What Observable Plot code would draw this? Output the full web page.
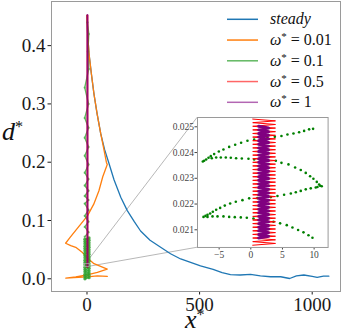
<!DOCTYPE html>
<html><head><meta charset="utf-8">
<script src="https://cdn.jsdelivr.net/npm/d3@7"></script>
<script src="https://cdn.jsdelivr.net/npm/@observablehq/plot@0.6"></script>
<style>
body{margin:0;background:#fff;}
#wrap{position:relative;width:343px;height:334px;overflow:hidden;}
#wrap svg{position:absolute;left:0;top:0;overflow:visible;}
</style></head><body><div id="wrap"></div>
<script>
// ---- data ----
const seriesLabels = ["steady", "0.01", "0.1", "0.5", "1"];
const seriesColors = ["#1f77b4", "#ff7f0e", "#2ca02c", "red", "purple"];
const seriesOpacity = [1, 1, 0.75, 0.6, 0.6];

const xTicks = [0, 500, 1000];
const yTicks = [0, 0.1, 0.2, 0.3, 0.4];
const insetXTicks = [-5, 0, 5, 10];
const insetYTicks = [0.021, 0.022, 0.023, 0.024, 0.025];

// steady
const steadyX = [0, 3, 9, 20, 31, 45, 61, 78, 96, 120, 150, 179, 210, 238, 280, 327, 371, 416, 460, 504, 560, 600, 637, 680, 726, 770, 815, 860, 900, 930, 963, 1000, 1022, 1050, 1074];
const steadyD = [0.452, 0.42, 0.386, 0.35, 0.317, 0.283, 0.249, 0.222, 0.2, 0.17, 0.14, 0.117, 0.098, 0.082, 0.066, 0.054, 0.043, 0.034, 0.028, 0.022, 0.016, 0.0105, 0.0072, 0.0065, 0.0075, 0.005, 0.0035, 0.0035, 0.0005, 0.005, 0.0065, 0.004, 0.0025, 0.0045, 0.0045];

// omega* = 0.01
const w001X = [0, 3, 9, 20, 31, 45, 61, 74, 86, 90, 70, 53, 30, 2, -25, -50, -75, -95, -72, -50, -20, 2, 31, 90, 46, 5, -50, -94, -58, 2, 46, 90];
const w001D = [0.452, 0.42, 0.386, 0.35, 0.317, 0.283, 0.249, 0.224, 0.2, 0.196, 0.175, 0.151, 0.128, 0.108, 0.095, 0.083, 0.071, 0.061, 0.057, 0.054, 0.045, 0.0355, 0.026, 0.0166, 0.011, 0.007, 0.0034, 0.001, 0.002, 0.0034, 0.005, 0.004];

// omega* = 0.1 (main view): upper wavy part and dense lower part
const w01X = [2, 8, 4, 8, -10, 7, -10, 7, -10, 7, -10, 7, -10, 7, -10, 7, -10, 7, -10, 7, -10, 7, -10, 7, -10];
const w01D = [0.44, 0.42, 0.39, 0.36, 0.328, 0.30, 0.276, 0.259, 0.242, 0.226, 0.211, 0.196, 0.182, 0.171, 0.160, 0.151, 0.142, 0.135, 0.129, 0.118, 0.108, 0.098, 0.089, 0.080, 0.072];
const w01BaseX = [9,-9,9,-9,9,-9,9,-9,9,-9,9,-9,9,-9,9,-9,9,-9,9,-9,9,-9,9,-9,9,-9,9,-9,9,-9,9,-9,9,-9,9,-9];
const w01BaseD = [0.070,0.068,0.066,0.064,0.062,0.060,0.058,0.056,0.054,0.052,0.050,0.048,0.046,0.044,0.042,0.040,0.038,0.036,0.034,0.032,0.030,0.028,0.026,0.024,0.022,0.020,0.018,0.016,0.014,0.012,0.010,0.008,0.006,0.004,0.002,0.000];

// omega* = 0.5 and 1 (main view)
const w05X = [2, 2];
const w05D = [0.0204, 0.4515];
const w1X = [2, 2];
const w1D = [0.0207, 0.4525];

// inset: omega* = 0.1 dots
const insetGreenX = [
  -7.58,-7.37,-7.05,-6.68,-6.32,-5.79,-5.05,-4.32,-3.42,-2.47,-1.53,-0.53,0.53,1.58,2.63,3.79,4.84,5.79,6.74,7.63,8.42,9.21,9.84,
  -6.16,-5.47,-4.74,-3.95,-3.16,-2.32,-1.42,-0.37,0.53,1.58,2.63,3.95,4.84,5.95,7.0,7.89,8.68,9.37,9.89,10.42,10.79,10.95,11.2,
  10.53,10.26,9.47,8.68,7.89,7.11,6.32,5.26,4.21,3.16,2.11,1.05,-0.26,-1.32,-2.37,-3.26,-4.11,-4.84,-5.47,-6.0,-6.42,-6.84,-7.16,-7.47,
  -6.84,-6.05,-5.26,-4.32,-3.42,-2.53,-1.58,-0.63,0.42,1.47,2.53,3.58,4.63,5.68,6.58,7.47,8.32,9.11,9.74];
const insetGreenD = [
  0.02365,0.02368,0.02373,0.02380,0.02386,0.02394,0.02404,0.02412,0.02422,0.02430,0.02438,0.02446,0.02450,0.02454,0.02458,0.02461,0.02464,0.02470,0.02474,0.02479,0.02484,0.02490,0.02492,
  0.02378,0.02381,0.02381,0.02381,0.02380,0.02378,0.02377,0.02376,0.02373,0.02372,0.02371,0.02368,0.02360,0.02354,0.02342,0.02332,0.02321,0.02308,0.02298,0.02286,0.02276,0.02271,0.02269,
  0.02266,0.02264,0.02261,0.02257,0.02251,0.02246,0.02241,0.02236,0.02231,0.02227,0.02224,0.02223,0.02222,0.02215,0.02209,0.02202,0.02194,0.02185,0.02178,0.02170,0.02163,0.02158,0.02154,0.02150,
  0.02150,0.02152,0.02152,0.02152,0.02150,0.02149,0.02148,0.02147,0.02144,0.02141,0.02139,0.02131,0.02125,0.02118,0.02109,0.02099,0.02090,0.02079,0.02069];

// inset: omega* = 0.5 path
const insetRedX = [
  0.3,3.9,0.3,3.9,0.3,3.9,0.3,3.9,0.3,3.9,
  0.3,3.9,0.3,3.9,0.3,3.9,0.3,3.9,0.3,3.9,
  0.3,3.9,0.3,3.9,0.3,3.9,0.3,3.9,0.3,3.9,
  0.3,3.9,0.3,3.9,0.3,3.9,0.3,3.9,0.3,3.9,
  0.3,3.9,0.3,3.9,0.3,3.9,0.3,3.9,0.3,3.9,
  0.3,3.9,0.3,3.9,0.3,3.9,0.3,3.9,0.3,3.9,
  0.3,3.9,0.3,3.9,0.3,3.9,0.3,3.9,0.3,3.9,
  0.3];
const insetRedD = [
  0.02040,0.02047,0.02054,0.02061,0.02068,0.02075,0.02082,0.02089,0.02096,0.02103,
  0.02110,0.02117,0.02124,0.02131,0.02138,0.02145,0.02152,0.02159,0.02166,0.02173,
  0.02180,0.02187,0.02194,0.02201,0.02208,0.02215,0.02222,0.02229,0.02236,0.02243,
  0.02250,0.02257,0.02264,0.02271,0.02278,0.02285,0.02292,0.02299,0.02306,0.02313,
  0.02320,0.02327,0.02334,0.02341,0.02348,0.02355,0.02362,0.02369,0.02376,0.02383,
  0.02390,0.02397,0.02404,0.02411,0.02418,0.02425,0.02432,0.02439,0.02446,0.02453,
  0.02460,0.02467,0.02474,0.02481,0.02488,0.02495,0.02502,0.02509,0.02516,0.02523,
  0.02530];

// inset: omega* = 1 path
const insetPurpleX = [
  1.25,2.8,1.25,2.8,1.25,2.8,1.25,2.8,1.25,2.8,
  1.25,2.8,1.25,2.8,1.25,2.8,1.25,2.8,1.25,2.8,
  1.25,2.8,1.25,2.8,1.25,2.8,1.25,2.8,1.25,2.8,
  1.25,2.8,1.25,2.8,1.25,2.8,1.25,2.8,1.25,2.8,
  1.25,2.8,1.25,2.8,1.25,2.8,1.25,2.8,1.25,2.8,
  1.25,2.8,1.25,2.8,1.25,2.8,1.25,2.8,1.25,2.8,
  1.25,2.8,1.25];
const insetPurpleD = [
  0.02068,0.02075,0.02082,0.02089,0.02096,0.02103,0.02110,0.02117,0.02124,0.02131,
  0.02138,0.02145,0.02152,0.02159,0.02166,0.02173,0.02180,0.02187,0.02194,0.02201,
  0.02208,0.02215,0.02222,0.02229,0.02236,0.02243,0.02250,0.02257,0.02264,0.02271,
  0.02278,0.02285,0.02292,0.02299,0.02306,0.02313,0.02320,0.02327,0.02334,0.02341,
  0.02348,0.02355,0.02362,0.02369,0.02376,0.02383,0.02390,0.02397,0.02404,0.02411,
  0.02418,0.02425,0.02432,0.02439,0.02446,0.02453,0.02460,0.02467,0.02474,0.02481,
  0.02488,0.02495,0.02502];

// ---- layout ----
const insetDomX = [-8.42, 12.21];
const insetDomD = [0.020313, 0.025361];
const insetBox = {x1: 489.3, x2: 1069.3, d1: 0.0542, d2: 0.2772}; // placement in main data units

const pt = (xs, ys) => xs.map((x, i) => ({x, y: ys[i]}));
const serif = "'Liberation Serif', 'DejaVu Serif', serif";
const frameGrey = "#9a9a9a";

const main = Plot.plot({
  width: 343, height: 334,
  marginLeft: 51, marginRight: 3, marginTop: 1, marginBottom: 43,
  style: {fontFamily: serif, fontSize: "19px", color: "#1a1a1a", background: "transparent"},
  x: {domain: [-157.6, 1125.7], ticks: xTicks, tickFormat: d => String(d), tickSize: 3.5, tickPadding: 2.5, label: null},
  y: {domain: [-0.0218, 0.4757], ticks: yTicks, tickFormat: d3.format(".1f"), tickSize: 3.5, tickPadding: 2.5, label: null},
  marks: [
    Plot.frame({stroke: frameGrey}),
    Plot.link([
      {x1: insetDomX[0], y1: insetDomD[1], x2: insetBox.x1, y2: insetBox.d2},
      {x1: insetDomX[0], y1: insetDomD[0], x2: insetBox.x1, y2: insetBox.d1}
    ], {x1: "x1", y1: "y1", x2: "x2", y2: "y2", stroke: "#a5a5a5", strokeWidth: 0.8}),
    Plot.line(pt(steadyX, steadyD), {x: "x", y: "y", stroke: seriesColors[0], strokeWidth: 1.3}),
    Plot.line(pt(w001X, w001D), {x: "x", y: "y", stroke: seriesColors[1], strokeWidth: 1.3}),
    Plot.line(pt(w01X, w01D), {x: "x", y: "y", stroke: seriesColors[2], strokeOpacity: 0.75, strokeWidth: 1.4}),
    Plot.dot(pt(w01X, w01D), {x: "x", y: "y", fill: seriesColors[2], fillOpacity: 0.45, r: 1.2}),
    Plot.line(pt(w01BaseX, w01BaseD), {x: "x", y: "y", stroke: seriesColors[2], strokeOpacity: 0.8, strokeWidth: 1.4}),
    Plot.dot(pt(w01BaseX, w01BaseD), {x: "x", y: "y", fill: seriesColors[2], fillOpacity: 0.8, r: 1.7}),
    Plot.line(pt(w05X, w05D), {x: "x", y: "y", stroke: seriesColors[3], strokeOpacity: 0.7, strokeWidth: 2}),
    Plot.line(pt(w1X, w1D), {x: "x", y: "y", stroke: seriesColors[4], strokeOpacity: 0.85, strokeWidth: 1.8}),
    Plot.rect([{x1: insetDomX[0], x2: insetDomX[1], y1: insetDomD[0], y2: insetDomD[1]}], {x1: "x1", x2: "x2", y1: "y1", y2: "y2", fill: "none", stroke: "#a5a5a5", strokeWidth: 0.8})
  ]
});
const wrap = document.getElementById("wrap");
wrap.appendChild(main);

// axis labels and legend
const svg = d3.select(main);
function mathLabel(x, y, v, size) {
  const t = svg.append("text").attr("x", x).attr("y", y).attr("text-anchor", "start")
    .attr("font-family", serif).attr("font-size", size).attr("fill", "#111");
  t.append("tspan").attr("font-style", "italic").text(v);
  t.append("tspan").attr("font-size", size * 0.62).attr("dy", -size * 0.3).text("*");
}
mathLabel(2, 140, "d", 26);
mathLabel(185, 328, "x", 26);

const leg = svg.append("g");
seriesLabels.forEach((lab, i) => {
  const y = 19.3 + i * 20.75;
  leg.append("line").attr("x1", 227).attr("x2", 258).attr("y1", y).attr("y2", y)
    .attr("stroke", seriesColors[i]).attr("stroke-opacity", seriesOpacity[i]).attr("stroke-width", 1.5);
  const t = leg.append("text").attr("x", 270).attr("y", y + 5).attr("text-anchor", "start")
    .attr("font-family", serif).attr("font-size", 16).attr("fill", "#111");
  if (i === 0) {
    t.append("tspan").attr("font-style", "italic").text(lab);
  } else {
    t.append("tspan").attr("font-style", "italic").text("ω");
    t.append("tspan").attr("font-size", 11).attr("dy", -5).text("*");
    t.append("tspan").attr("dy", 5).text(" = " + lab);
  }
});

// inset
const sx = main.scale("x"), sy = main.scale("y");
const L = sx.apply(insetBox.x1), R = sx.apply(insetBox.x2), T = sy.apply(insetBox.d2), B = sy.apply(insetBox.d1);
const mL = 30, mR = 1, mT = 1, mB = 14;
const inset = Plot.plot({
  width: (R - L) + mL + mR, height: (B - T) + mT + mB,
  marginLeft: mL, marginRight: mR, marginTop: mT, marginBottom: mB,
  style: {fontFamily: serif, fontSize: "9.5px", color: "#444", background: "transparent"},
  x: {domain: insetDomX, ticks: insetXTicks, tickSize: 2.5, tickPadding: 1.5, label: null},
  y: {domain: insetDomD, ticks: insetYTicks, tickFormat: d3.format(".3f"), tickSize: 2.5, tickPadding: 1, label: null},
  marks: [
    Plot.frame({fill: "white", stroke: "none"}),
    Plot.dot(pt(insetGreenX, insetGreenD), {x: "x", y: "y", fill: "green", r: 1.3}),
    Plot.line(pt(insetRedX, insetRedD), {x: "x", y: "y", stroke: "red", strokeWidth: 1}),
    Plot.line(pt(insetPurpleX, insetPurpleD), {x: "x", y: "y", stroke: "purple", strokeWidth: 3}),
    Plot.frame({stroke: frameGrey})
  ]
});
inset.style.left = (L - mL) + "px";
inset.style.top = (T - mT) + "px";
wrap.appendChild(inset);
</script>
</body></html>
